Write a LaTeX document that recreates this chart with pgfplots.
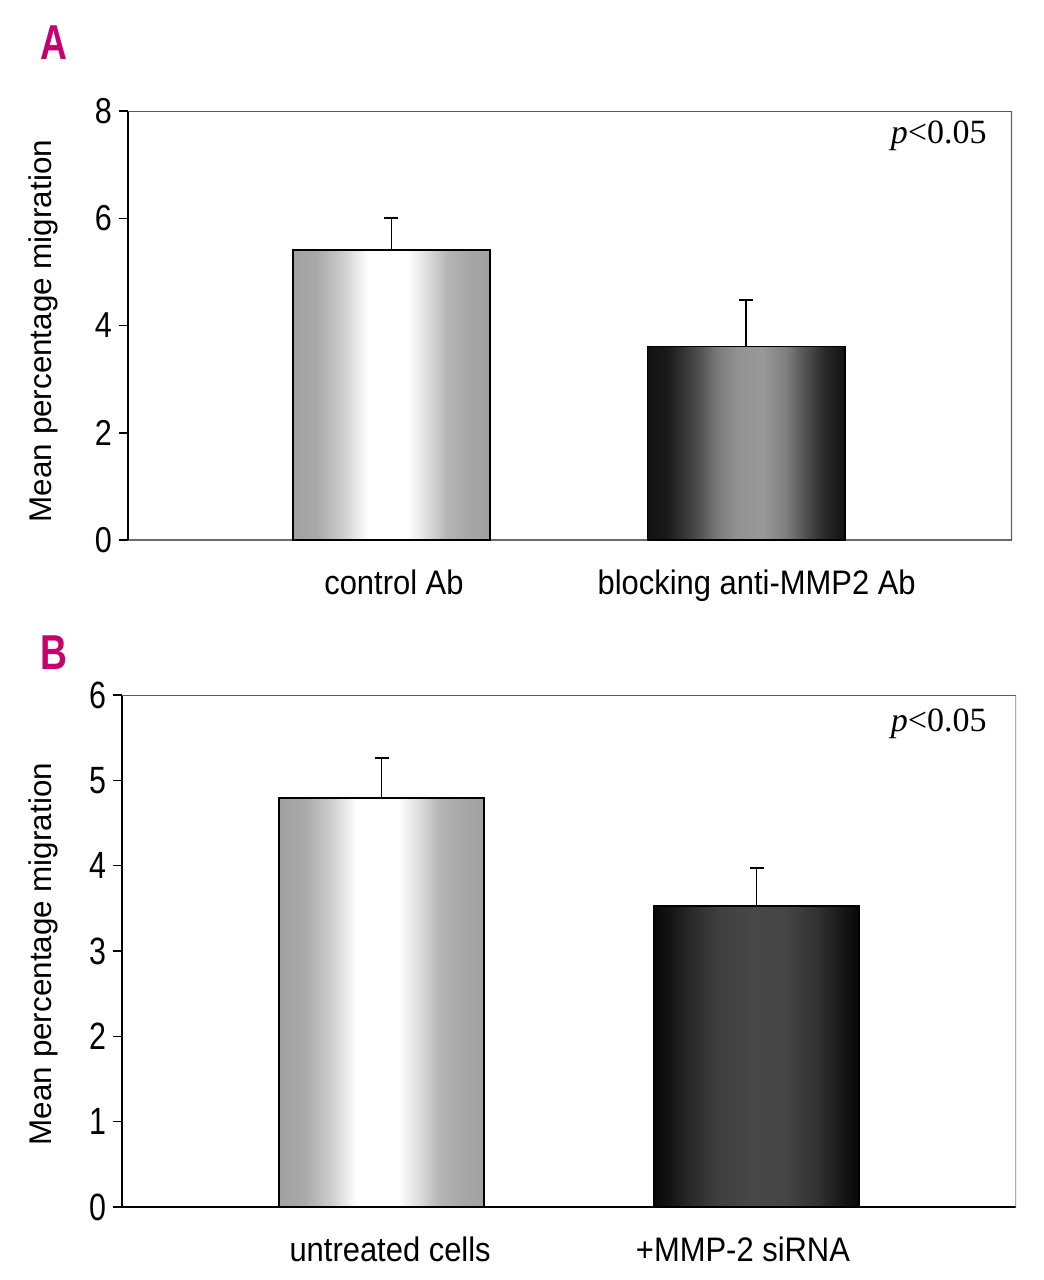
\documentclass[border=0pt]{standalone}
\usepackage{pgfplots}
\pgfplotsset{compat=1.18}
\usepackage{fontspec}
\setmainfont{Liberation Sans}
\newfontfamily\condA[FakeStretch=0.85]{Liberation Sans}
\newfontfamily\condB[FakeStretch=0.80]{Liberation Sans}
\newfontfamily\condX[FakeStretch=0.91]{Liberation Sans}
\newfontfamily\panelfont[FakeStretch=0.76]{Liberation Sans}
\newfontfamily\pser{Liberation Serif}
\definecolor{panelc}{RGB}{200,0,110}

\pgfdeclarehorizontalshading{lightbar}{100bp}{%
 rgb(0bp)=(0.63,0.63,0.63);
 rgb(25bp)=(0.63,0.63,0.63);
 rgb(31bp)=(0.66,0.66,0.66);
 rgb(37.5bp)=(0.80,0.80,0.80);
 rgb(44bp)=(1,1,1);
 rgb(54bp)=(1,1,1);
 rgb(59bp)=(0.87,0.87,0.87);
 rgb(64bp)=(0.71,0.71,0.71);
 rgb(70bp)=(0.65,0.65,0.65);
 rgb(75bp)=(0.63,0.63,0.63);
 rgb(100bp)=(0.63,0.63,0.63)}
\pgfdeclarehorizontalshading{darkA}{100bp}{%
 rgb(0bp)=(0.07,0.07,0.07);
 rgb(25bp)=(0.07,0.07,0.07);
 rgb(30bp)=(0.10,0.10,0.10);
 rgb(34bp)=(0.20,0.20,0.20);
 rgb(38.5bp)=(0.33,0.33,0.33);
 rgb(42.5bp)=(0.47,0.47,0.47);
 rgb(47.5bp)=(0.57,0.57,0.57);
 rgb(54bp)=(0.60,0.60,0.60);
 rgb(60bp)=(0.50,0.50,0.50);
 rgb(65bp)=(0.32,0.32,0.32);
 rgb(70bp)=(0.16,0.16,0.16);
 rgb(75bp)=(0.07,0.07,0.07);
 rgb(100bp)=(0.07,0.07,0.07)}
\pgfdeclarehorizontalshading{darkB}{100bp}{%
 rgb(0bp)=(0.03,0.03,0.03);
 rgb(25bp)=(0.03,0.03,0.03);
 rgb(29bp)=(0.08,0.08,0.08);
 rgb(33bp)=(0.15,0.15,0.15);
 rgb(41bp)=(0.25,0.25,0.25);
 rgb(49bp)=(0.28,0.28,0.28);
 rgb(57bp)=(0.27,0.27,0.27);
 rgb(65bp)=(0.19,0.19,0.19);
 rgb(71.5bp)=(0.08,0.08,0.08);
 rgb(75bp)=(0.03,0.03,0.03);
 rgb(100bp)=(0.03,0.03,0.03)}

\pgfplotsset{
  mystyle/.style={
    scale only axis,
    anchor=south west,
    axis x line*=bottom,
    axis y line*=left,
    tick align=outside,
    major tick length=4.5pt,
    ytick style={black, line width=0.75pt},
    xtick style={draw=none},
    /pgf/number format/assume math mode=true,
    xticklabel style={font=\condX\fontsize{17}{20}\selectfont, yshift=-7pt},
    every axis y label/.style={rotate=90, anchor=center, font=\fontsize{15.7}{18}\selectfont},
    y axis line style={black, line width=1pt},
  },
  errstyle/.style={draw=none, mark=none, forget plot,
    error bars/.cd, y dir=plus, y explicit,
    error bar style={draw=black, solid, line width=0.9pt},
    error mark options={rotate=90, draw=black, solid, line width=0.9pt, mark size=3.5pt}},
}

\begin{document}
\begin{tikzpicture}
\path[use as bounding box] (0pt,0pt) rectangle (522pt,-640pt);

% Panel A
\begin{axis}[mystyle,
  at={(64pt,-270pt)}, width=442pt, height=214.5pt,
  xmin=-0.743, xmax=1.750, ymin=0, ymax=8, ytick={0,2,4,6,8},
  xtick={0.007,1.03}, xticklabels={control Ab, blocking anti-MMP2 Ab},
  yticklabel style={font=\condA\fontsize{18}{20}\selectfont},
  x axis line style={draw=black!58, line width=0.75pt},
  ylabel={Mean percentage migration},
  every axis y label/.append style={at={(axis description cs:-0.0962,0.487)}},
]
\addplot[ybar, bar width=0.556, bar shift=0pt, draw=black, line width=0.9pt, shading=lightbar] coordinates {(0,5.41)};
\addplot[ybar, bar width=0.556, bar shift=0pt, draw=black, line width=0.9pt, shading=darkA] coordinates {(1,3.61)};
\addplot[errstyle] coordinates {(0,5.41) +- (0,0.60) (1,3.61) +- (0,0.86)};
\draw[black!65, line width=0.65pt] (rel axis cs:0,1) -- (rel axis cs:1,1);
\draw[black!62, line width=1.2pt] (rel axis cs:1,1) -- (rel axis cs:1,0) -- ++(0,-4pt);
\end{axis}

% Panel B
\begin{axis}[mystyle,
  at={(61pt,-603.5pt)}, width=447pt, height=256pt,
  xmin=-0.692, xmax=1.692, ymin=0, ymax=6, ytick={0,1,2,3,4,5,6},
  xtick={0.023,0.964}, xticklabels={untreated cells, +MMP-2 siRNA},
  yticklabel style={font=\condB\fontsize{19}{21}\selectfont},
  x axis line style={draw=black, line width=1pt},
  ylabel={Mean percentage migration},
  every axis y label/.append style={at={(axis description cs:-0.0884,0.494)}},
]
\addplot[ybar, bar width=0.548, bar shift=0pt, draw=black, line width=0.9pt, shading=lightbar] coordinates {(0,4.79)};
\addplot[ybar, bar width=0.548, bar shift=0pt, draw=black, line width=0.9pt, shading=darkB] coordinates {(1,3.53)};
\addplot[errstyle] coordinates {(0,4.79) +- (0,0.47) (1,3.53) +- (0,0.44)};
\draw[black!65, line width=0.75pt] (rel axis cs:0,1) -- (rel axis cs:1,1);
\draw[black!50, line width=0.6pt] (rel axis cs:1,1) -- (rel axis cs:1,0) -- ++(0,-4pt);
\end{axis}

% panel letters and annotations
\node[font=\panelfont\bfseries\fontsize{24.5}{26}\selectfont, text=panelc, inner sep=0pt] at (26.75pt,-21.25pt) {A};
\node[font=\panelfont\bfseries\fontsize{24.5}{26}\selectfont, text=panelc, inner sep=0pt] at (26.75pt,-326.5pt) {B};
\node[font=\pser\fontsize{17}{20}\selectfont, anchor=east, inner sep=0pt] at (493.5pt,-68pt) {\textit{p}<0.05};
\node[font=\pser\fontsize{17}{20}\selectfont, anchor=east, inner sep=0pt] at (493.5pt,-361.75pt) {\textit{p}<0.05};
\end{tikzpicture}
\end{document}
